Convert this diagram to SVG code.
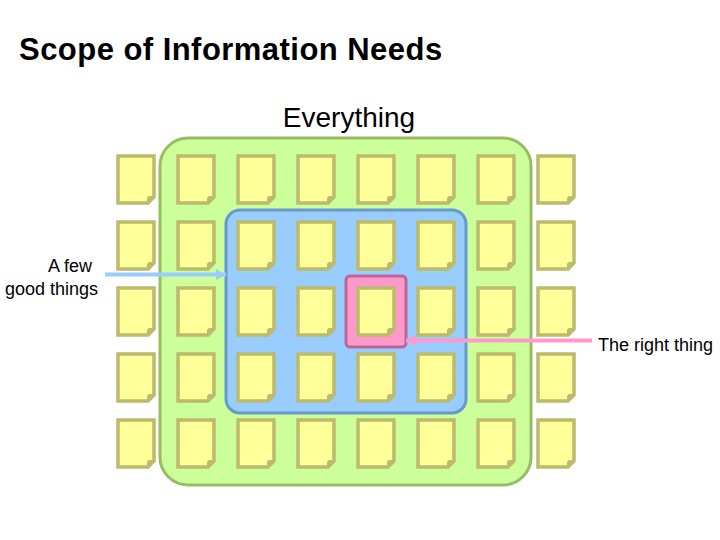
<svg xmlns="http://www.w3.org/2000/svg" width="720" height="540" viewBox="0 0 720 540">
<style>
text{font-family:"Liberation Sans",Arial,sans-serif;fill:#000}
.lbl{font-size:18px}
.doc{fill:#ffff99;stroke:#bbbb6b;stroke-width:3.5;stroke-linejoin:miter}
.fold{fill:#bbbb6b;stroke:none}
</style>
<defs>
<g id="note">
<path class="doc" d="M0 0H36V41L30 47H0Z"/>
<path class="fold" d="M29 47V43Q29 40 32 40H36Z"/>
</g>
<marker id="ab" markerUnits="userSpaceOnUse" markerWidth="12" markerHeight="14" refX="10" refY="7" orient="auto"><path d="M0 1.500L10 7L0 12.500Z" fill="#99ccff"/></marker>
<marker id="ap" markerUnits="userSpaceOnUse" markerWidth="12" markerHeight="14" refX="10" refY="7" orient="auto"><path d="M0 1.500L10 7L0 12.500Z" fill="#ff99cc"/></marker>
</defs>
<rect width="720" height="540" fill="#fff"/>
<text id="title" x="19" y="60" font-size="31" font-weight="700" letter-spacing=".46">Scope of Information Needs</text>
<text id="everything" x="349" y="127" font-size="28" text-anchor="middle">Everything</text>
<g id="region-everything"><rect x="160" y="138" width="371" height="347" rx="28" fill="#ccff99" stroke="#99bb66" stroke-width="3"/></g>
<g id="region-few"><rect x="226" y="210" width="240" height="203" rx="14" fill="#99ccff" stroke="#6699cc" stroke-width="3"/></g>
<g id="region-right"><rect x="346" y="276" width="60" height="71" rx="4" fill="#ff99cc" stroke="#bb6699" stroke-width="3"/></g>
<g id="notes">
<g id="n11"><use href="#note" x="118" y="156"/></g><g id="n12"><use href="#note" x="178" y="156"/></g><g id="n13"><use href="#note" x="238" y="156"/></g><g id="n14"><use href="#note" x="298" y="156"/></g><g id="n15"><use href="#note" x="358" y="156"/></g><g id="n16"><use href="#note" x="418" y="156"/></g><g id="n17"><use href="#note" x="478" y="156"/></g><g id="n18"><use href="#note" x="538" y="156"/></g>
<g id="n21"><use href="#note" x="118" y="222"/></g><g id="n22"><use href="#note" x="178" y="222"/></g><g id="n23"><use href="#note" x="238" y="222"/></g><g id="n24"><use href="#note" x="298" y="222"/></g><g id="n25"><use href="#note" x="358" y="222"/></g><g id="n26"><use href="#note" x="418" y="222"/></g><g id="n27"><use href="#note" x="478" y="222"/></g><g id="n28"><use href="#note" x="538" y="222"/></g>
<g id="n31"><use href="#note" x="118" y="288"/></g><g id="n32"><use href="#note" x="178" y="288"/></g><g id="n33"><use href="#note" x="238" y="288"/></g><g id="n34"><use href="#note" x="298" y="288"/></g><g id="n35"><use href="#note" x="358" y="288"/></g><g id="n36"><use href="#note" x="418" y="288"/></g><g id="n37"><use href="#note" x="478" y="288"/></g><g id="n38"><use href="#note" x="538" y="288"/></g>
<g id="n41"><use href="#note" x="118" y="354"/></g><g id="n42"><use href="#note" x="178" y="354"/></g><g id="n43"><use href="#note" x="238" y="354"/></g><g id="n44"><use href="#note" x="298" y="354"/></g><g id="n45"><use href="#note" x="358" y="354"/></g><g id="n46"><use href="#note" x="418" y="354"/></g><g id="n47"><use href="#note" x="478" y="354"/></g><g id="n48"><use href="#note" x="538" y="354"/></g>
<g id="n51"><use href="#note" x="118" y="420"/></g><g id="n52"><use href="#note" x="178" y="420"/></g><g id="n53"><use href="#note" x="238" y="420"/></g><g id="n54"><use href="#note" x="298" y="420"/></g><g id="n55"><use href="#note" x="358" y="420"/></g><g id="n56"><use href="#note" x="418" y="420"/></g><g id="n57"><use href="#note" x="478" y="420"/></g><g id="n58"><use href="#note" x="538" y="420"/></g>
</g>
<g id="connectors" fill="none" stroke-width="4">
<path d="M105 274.500H226" stroke="#99ccff" marker-end="url(#ab)"/>
<path d="M592 340.500H406" stroke="#ff99cc" marker-end="url(#ap)"/>
</g>
<g id="label-few"><text class="lbl" x="70" y="272" text-anchor="middle">A few</text><text class="lbl" x="51.500" y="295" text-anchor="middle">good things</text></g>
<g id="label-right"><text class="lbl" x="598" y="351">The right thing</text></g>
</svg>
